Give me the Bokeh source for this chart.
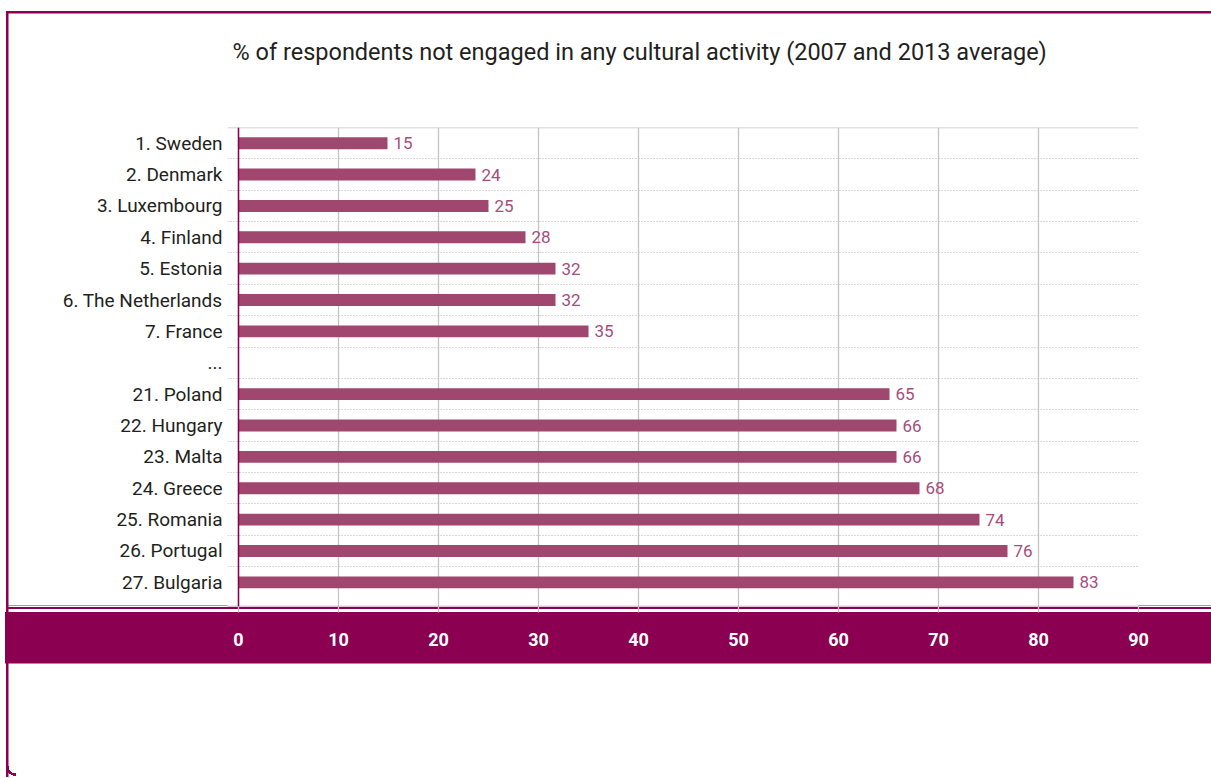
from bokeh.plotting import figure
from bokeh.models import Range1d, FixedTicker, Span, BoxAnnotation, Title, ColumnDataSource
from bokeh.core.properties import value
from bokeh.embed import file_html
from bokeh.resources import INLINE

# ---------------- data ----------------
categories = ["1. Sweden", "2. Denmark", "3. Luxembourg", "4. Finland", "5. Estonia",
              "6. The Netherlands", "7. France", "...", "21. Poland", "22. Hungary",
              "23. Malta", "24. Greece", "25. Romania", "26. Portugal", "27. Bulgaria"]
values = [14.9, 23.7, 25.0, 28.7, 31.7, 31.7, 35.0, None, 65.1, 65.8, 65.8, 68.1, 74.1, 76.9, 83.5]
value_labels = ["15", "24", "25", "28", "32", "32", "35", "", "65", "66", "66", "68", "74", "76", "83"]
x_ticks = [0, 10, 20, 30, 40, 50, 60, 70, 80, 90]
title_text = "% of respondents not engaged in any cultural activity (2007 and 2013 average)"

# ---------------- style ----------------
FONT = "Roboto"
BAND = "#8b0050"
PINK = "#c98aac"
BAR = "#a0476f"
LABEL = "#a64c7b"
TEXT = "#231f20"
GRID = "#c4c4c4"

W, H = 1211, 778
# frame in canvas pixels
FL, FR, FT, FB = 227, 1138, 127, 606

pos = list(range(len(categories)))
n = len(categories)

p = figure(width=W, height=H, output_backend="svg", toolbar_location=None,
           x_range=Range1d(-1.1, 90), y_range=Range1d(n - 0.23, -0.5),
           min_border_left=FL, min_border_right=W - FR,
           min_border_top=FT, min_border_bottom=H - FB)
p.outline_line_color = None
p.background_fill_color = "white"
p.border_fill_color = None

# page decoration outside the frame: outer border, axis band and rules above it
def layer(color, x, y, w, h):
    return f"linear-gradient({color},{color}) {x}px {y}px / {w}px {h}px no-repeat"

p.styles = {"background": ", ".join([
    layer(BAND, 6, 10.5, 1205, 2.5),      # top border
    layer(BAND, 5.5, 10.5, 2.5, 766),     # left border
    "radial-gradient(circle at 100% 0, transparent 7.5px, #8b0050 7.5px, #8b0050 10px, "
    "transparent 10px) 5.5px 766px / 10px 12px no-repeat",   # rounded corner
    layer(BAND, 5, 612, 1206, 51.5),      # axis band
    layer(BAND, 6, 607, 1205, 2),         # rule
    layer(PINK, 6, 605.3, 1205, 1.3),     # light rule
    "#ffffff",
])}

# light rule inside the frame
p.add_layout(BoxAnnotation(left=-FL, right=W, top=FB - 605.3, bottom=FB - 606.6,
                           left_units="screen", right_units="screen",
                           top_units="screen", bottom_units="screen",
                           fill_color=PINK, fill_alpha=1, line_color=None))

# grids
p.xgrid.ticker = FixedTicker(ticks=x_ticks)
p.xgrid.grid_line_color = GRID
p.xgrid.grid_line_width = 1.3
p.ygrid.ticker = FixedTicker(ticks=[i + 0.5 for i in range(n - 1)])
p.ygrid.grid_line_color = "#b3b3b3"
p.ygrid.grid_line_dash = "1 2"
p.ygrid.grid_line_width = 1

# top border of frame and y-axis line at zero
p.add_layout(Span(location=-0.5, dimension="width", line_color=GRID, line_width=1.5))
p.add_layout(Span(location=0, dimension="height", line_color=BAND, line_width=1.5))

# x axis
p.xaxis.ticker = FixedTicker(ticks=x_ticks)
p.xaxis.axis_line_color = None
p.xaxis.major_tick_in = 0
p.xaxis.major_tick_out = 6
p.xaxis.major_tick_line_color = GRID
p.xaxis.major_tick_line_width = 1.3
p.xaxis.minor_tick_line_color = None
p.xaxis.major_label_standoff = 20
p.xaxis.major_label_text_color = "white"
p.xaxis.major_label_text_font = FONT
p.xaxis.major_label_text_font_style = "bold"
p.xaxis.major_label_text_font_size = "18px"

# y axis
p.yaxis.ticker = FixedTicker(ticks=pos)
p.yaxis.major_label_overrides = {i: c for i, c in zip(pos, categories)}
p.yaxis.axis_line_color = None
p.yaxis.major_tick_line_color = None
p.yaxis.minor_tick_line_color = None
p.yaxis.major_tick_out = 0
p.yaxis.major_tick_in = 0
p.yaxis.major_label_standoff = 5
p.yaxis.major_label_text_color = TEXT
p.yaxis.major_label_text_font = FONT
p.yaxis.major_label_text_font_size = "19px"

# bars and value labels
rows = [(i, v, l) for i, v, l in zip(pos, values, value_labels) if v is not None]
src = ColumnDataSource(data=dict(pos=[r[0] for r in rows],
                                 value=[r[1] for r in rows],
                                 label=[r[2] for r in rows]))
p.hbar(y="pos", left=0, right="value", height=0.38, source=src,
       fill_color=BAR, line_color=None)
p.text(x="value", y="pos", text="label", source=src, x_offset=6,
       text_align="left", text_baseline="middle",
       text_font=value(FONT), text_font_size="17px", text_color=LABEL)

# title: a blank spacer title next to the frame, then the real title above it
p.add_layout(Title(text=" ", text_font_size="10px", standoff=49), "above")
p.add_layout(Title(text=title_text, align="left", offset=5, standoff=0,
                   text_font=FONT, text_font_size="23.5px", text_font_style="normal",
                   text_color=TEXT), "above")

open("out.html", "w").write(file_html(p, INLINE))
